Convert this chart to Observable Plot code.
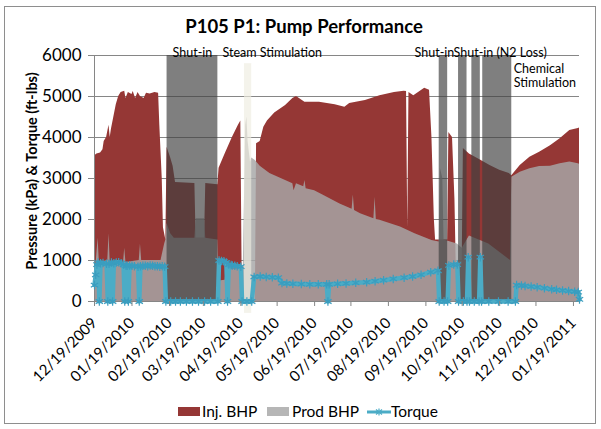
<!DOCTYPE html>
<html><head><meta charset="utf-8">
<script src="https://cdn.jsdelivr.net/npm/d3@7"></script>
<script src="https://cdn.jsdelivr.net/npm/@observablehq/plot@0.6"></script>
<style>
body{margin:0;background:#fff;font-family:Lato,"Open Sans",sans-serif;color:#000;}
#wrap{position:relative;width:601px;height:429px;overflow:hidden;}
#frame{position:absolute;left:4px;top:6px;width:592px;height:418px;border:1px solid #8e8e8e;box-sizing:border-box;}
#title{position:absolute;left:0;width:608px;top:15px;text-align:center;font-weight:bold;font-size:18.5px;line-height:22px;}
#ylab{position:absolute;left:-118px;top:161px;width:300px;line-height:20px;text-align:center;font-weight:bold;font-size:14.5px;transform:rotate(-90deg);}
#chart{position:absolute;left:0;top:0;}
.sw{position:absolute;}
.lt{position:absolute;font-size:15.5px;line-height:18px;top:402px;}
</style></head>
<body><div id="wrap"><div id="frame"></div><div id="title">P105 P1: Pump Performance</div><div id="ylab">Pressure (kPa) &amp; Torque (ft-lbs)</div><div id="chart"></div><div id="legend"></div></div>
<script>
// ---- data ----
const injBHP = [
["2009-12-19",3550],["2009-12-21",3600],["2009-12-24",3620],["2009-12-26",3700],["2009-12-27",3900],["2009-12-29",4000],["2009-12-31",4300],["2010-01-01",4000],["2010-01-02",4200],["2010-01-04",4500],["2010-01-06",4800],["2010-01-08",5000],["2010-01-10",5100],["2010-01-13",5130],["2010-01-14",4950],["2010-01-16",5100],["2010-01-19",5050],["2010-01-20",5120],["2010-01-22",4950],["2010-01-24",5100],["2010-01-26",5000],["2010-01-29",4950],["2010-01-31",5080],["2010-02-03",5060],["2010-02-07",5100],["2010-02-10",5080],["2010-02-11",4300],["2010-02-13",3000],["2010-02-14",1800],["2010-02-16",1500],["2010-02-17",3760],["2010-02-20",3500],["2010-02-22",3300],["2010-02-24",2900],["2010-03-12",2880],["2010-03-13",1550],["2010-03-20",1550],["2010-03-21",2880],["2010-03-31",2850],["2010-04-01",3250],["2010-04-06",3600],["2010-04-12",4000],["2010-04-17",4300],["2010-04-19",4400],["2010-04-20",900],["2010-04-21",0],["2010-05-01",0],["2010-05-02",3850],["2010-05-05",3900],["2010-05-08",4250],["2010-05-11",4400],["2010-05-17",4600],["2010-05-26",4780],["2010-06-01",4950],["2010-06-04",5000],["2010-06-11",4860],["2010-06-23",4860],["2010-07-06",4800],["2010-07-14",4740],["2010-07-18",4830],["2010-07-31",4900],["2010-08-12",5020],["2010-08-24",5100],["2010-09-01",5130],["2010-09-03",5120],["2010-09-04",1800],["2010-09-05",5100],["2010-09-09",5020],["2010-09-18",5200],["2010-09-22",5150],["2010-09-24",4000],["2010-09-26",2000],["2010-09-27",1500],["2010-10-07",1500],["2010-10-08",4120],["2010-10-11",4000],["2010-10-13",2500],["2010-10-14",1000],["2010-10-16",800],["2010-10-19",900],["2010-10-20",3730],["2010-10-25",3600],["2010-11-03",3450],["2010-11-11",3320],["2010-11-19",3200],["2010-11-27",3120],["2010-11-29",3070],["2010-12-06",3320],["2010-12-14",3520],["2010-12-22",3640],["2010-12-31",3800],["2011-01-08",3970],["2011-01-16",4170],["2011-01-23",4220],["2011-01-24",4230]
];
const prodBHP = [
["2009-12-19",0],["2009-12-20",800],["2009-12-22",1550],["2009-12-23",950],["2009-12-30",1000],["2009-12-31",1650],["2010-01-01",950],["2010-01-12",950],["2010-01-13",1300],["2010-01-14",950],["2010-01-25",1000],["2010-01-26",1400],["2010-01-27",1000],["2010-02-12",1000],["2010-02-15",1400],["2010-02-16",1500],["2010-02-17",1900],["2010-02-20",1650],["2010-02-23",1540],["2010-03-12",1540],["2010-03-13",2020],["2010-03-20",2020],["2010-03-21",1540],["2010-03-31",1500],["2010-04-01",500],["2010-04-06",520],["2010-04-07",800],["2010-04-21",800],["2010-04-22",2500],["2010-04-23",4300],["2010-04-24",4500],["2010-04-25",3900],["2010-04-27",3400],["2010-04-28",3500],["2010-05-01",3440],["2010-05-05",3300],["2010-05-13",3120],["2010-05-26",2950],["2010-06-01",2870],["2010-06-02",2700],["2010-06-04",2870],["2010-06-10",2800],["2010-06-11",2950],["2010-06-12",2750],["2010-06-19",2700],["2010-06-27",2580],["2010-07-10",2380],["2010-07-20",2250],["2010-07-21",2600],["2010-07-22",2220],["2010-07-27",2140],["2010-08-07",2020],["2010-08-08",2540],["2010-08-09",2000],["2010-08-12",1980],["2010-08-29",1820],["2010-09-10",1650],["2010-09-24",1490],["2010-09-30",1450],["2010-10-01",3250],["2010-10-03",3000],["2010-10-04",1500],["2010-10-15",1400],["2010-10-19",1300],["2010-10-25",1600],["2010-11-10",1400],["2010-11-28",1000],["2010-11-29",3030],["2010-12-06",3150],["2010-12-14",3240],["2010-12-22",3290],["2010-12-31",3300],["2011-01-08",3360],["2011-01-16",3400],["2011-01-23",3360],["2011-01-24",3350]
];
const torque = [
["2009-12-19",400],["2009-12-20",650],["2009-12-21",900],["2009-12-22",950],["2009-12-23",0],["2009-12-24",930],["2009-12-26",940],["2009-12-29",920],["2009-12-30",0],["2009-12-31",920],["2010-01-02",950],["2010-01-03",0],["2010-01-04",930],["2010-01-06",950],["2010-01-08",960],["2010-01-10",930],["2010-01-12",900],["2010-01-13",0],["2010-01-14",880],["2010-01-15",870],["2010-01-16",0],["2010-01-17",880],["2010-01-19",870],["2010-01-21",860],["2010-01-24",850],["2010-01-25",0],["2010-01-26",860],["2010-01-28",870],["2010-01-30",870],["2010-02-01",860],["2010-02-03",880],["2010-02-05",870],["2010-02-07",860],["2010-02-09",860],["2010-02-11",850],["2010-02-13",860],["2010-02-15",850],["2010-02-16",0],["2010-02-20",0],["2010-02-24",0],["2010-02-28",0],["2010-03-05",0],["2010-03-10",0],["2010-03-15",0],["2010-03-20",0],["2010-03-25",0],["2010-03-31",0],["2010-04-01",1000],["2010-04-03",990],["2010-04-05",980],["2010-04-07",950],["2010-04-08",0],["2010-04-09",900],["2010-04-11",890],["2010-04-12",880],["2010-04-14",870],["2010-04-16",860],["2010-04-19",850],["2010-04-20",0],["2010-04-24",0],["2010-04-28",0],["2010-04-30",600],["2010-05-05",610],["2010-05-10",600],["2010-05-15",590],["2010-05-20",580],["2010-05-23",450],["2010-05-27",440],["2010-06-01",430],["2010-06-08",425],["2010-06-15",420],["2010-06-22",420],["2010-06-29",420],["2010-06-30",0],["2010-07-01",420],["2010-07-08",430],["2010-07-15",440],["2010-07-23",455],["2010-08-01",470],["2010-08-08",495],["2010-08-15",520],["2010-08-23",550],["2010-09-01",580],["2010-09-08",610],["2010-09-15",650],["2010-09-23",715],["2010-09-29",750],["2010-09-30",0],["2010-10-04",0],["2010-10-07",0],["2010-10-08",880],["2010-10-12",900],["2010-10-15",900],["2010-10-16",0],["2010-10-20",0],["2010-10-23",0],["2010-10-24",1080],["2010-10-25",0],["2010-10-29",0],["2010-11-02",0],["2010-11-03",1080],["2010-11-04",0],["2010-11-10",0],["2010-11-18",0],["2010-11-26",0],["2010-12-02",0],["2010-12-03",400],["2010-12-07",390],["2010-12-10",380],["2010-12-15",365],["2010-12-20",350],["2010-12-26",325],["2011-01-01",300],["2011-01-05",285],["2011-01-10",270],["2011-01-15",255],["2011-01-20",240],["2011-01-23",230],["2011-01-24",50]
];
const shutInPeriods = [["2010-02-17","2010-03-31"],["2010-09-30","2010-10-07"],["2010-10-16","2010-10-23"],["2010-10-27","2010-11-03"],["2010-11-05","2010-11-29"]];
const steamPeriod = [["2010-04-22","2010-04-28"]];
const eventLabels = ["Shut-in","Steam Stimulation","Shut-in","Shut-in (N2 Loss)","Chemical\nStimulation"];
const xTickLabels = ["12/19/2009","01/19/2010","02/19/2010","03/19/2010","04/19/2010","05/19/2010","06/19/2010","07/19/2010","08/19/2010","09/19/2010","10/19/2010","11/19/2010","12/19/2010","01/19/2011"];
const yTicks = [0,1000,2000,3000,4000,5000,6000];
const xDomain = ["2009-12-19","2011-01-24"];
const seriesNames = ["Inj. BHP","Prod BHP","Torque"];

// ---- chart ----
const D = s => new Date(s + "T00:00:00Z");
const parseTick = d3.utcParse("%m/%d/%Y");
const xTicks = xTickLabels.map(parseTick);
const fmt = d3.utcFormat("%m/%d/%Y");
const grey = "#868686";
const mid = p => new Date((D(p[0]).getTime() + D(p[1]).getTime()) / 2);

const chart = Plot.plot({
  width: 601, height: 395,
  marginLeft: 94, marginRight: 22, marginTop: 55, marginBottom: 94,
  x: {type: "utc", domain: xDomain.map(D)},
  y: {domain: [0, 6000]},
  style: {fontFamily: "Lato, 'Open Sans', sans-serif", fontSize: "15px", color: "#000", background: "transparent", overflow: "visible"},
  marks: [
    Plot.gridY(yTicks.filter(v => v > 0), {stroke: grey, strokeOpacity: 1}),
    Plot.areaY(injBHP, {x: d => D(d[0]), y: d => d[1], fill: "#953735"}),
    Plot.areaY(prodBHP, {x: d => D(d[0]), y: d => d[1], fill: "#a7a7a7", fillOpacity: 0.83}),
    Plot.rect(steamPeriod, {x1: d => D(d[0]), x2: d => D(d[1]), y1: -290, y2: 5800, fill: "#eeece1", fillOpacity: 0.65}),
    Plot.rect(shutInPeriods, {x1: d => D(d[0]), x2: d => D(d[1]), y1: 0, y2: 6000, fill: "#404040", fillOpacity: 0.67}),
    Plot.ruleY([0], {stroke: grey}),
    Plot.ruleX([D(xDomain[0])], {stroke: grey}),
    Plot.line(torque, {x: d => D(d[0]), y: d => d[1], stroke: "#4bacc6", strokeWidth: 4.5}),
    Plot.dot(torque, {x: d => D(d[0]), y: d => d[1], symbol: "asterisk", r: 4, stroke: "#3a9dbf", strokeWidth: 1.2}),
    Plot.axisY(yTicks, {tickSize: 6, tickPadding: 7, stroke: grey, fontSize: 17, tickFormat: d => String(d), label: null}),
    Plot.axisX(xTicks, {tickRotate: -45, tickSize: 5, tickPadding: 14, stroke: grey, fontSize: 15, tickFormat: fmt, label: null}),
    Plot.text([eventLabels[0]], {x: mid(shutInPeriods[0]), frameAnchor: "top", dy: -7, fontSize: 12.5}),
    Plot.text([eventLabels[1]], {x: D(steamPeriod[0][0]), frameAnchor: "top", dy: -7, dx: -22, textAnchor: "start", fontSize: 12.5}),
    Plot.text([eventLabels[2]], {x: mid(shutInPeriods[1]), frameAnchor: "top", dy: -7, dx: -9, fontSize: 12.5}),
    Plot.text([eventLabels[3]], {x: D(shutInPeriods[2][0]), frameAnchor: "top", dy: -7, dx: -5, textAnchor: "start", fontSize: 12.5}),
    Plot.text([eventLabels[4]], {x: D(shutInPeriods[4][1]), frameAnchor: "top", dy: 7, dx: 2, textAnchor: "start", lineAnchor: "top", lineHeight: 1.15, fontSize: 12.5})
  ]
});
document.getElementById("chart").appendChild(chart);

// ---- legend ----
const lg = document.getElementById("legend");
const items = [
  {name: seriesNames[0], kind: "rect", color: "#953735", sx: 178, tx: 202},
  {name: seriesNames[1], kind: "rect", color: "#b6b6b6", sx: 267, tx: 292},
  {name: seriesNames[2], kind: "line", color: "#4bacc6", sx: 367, tx: 391}
];
for (const it of items) {
  if (it.kind === "rect") {
    const s = document.createElement("div");
    s.className = "sw";
    Object.assign(s.style, {left: it.sx + "px", top: "407px", width: "22px", height: "9px", background: it.color});
    lg.appendChild(s);
  } else {
    const ns = "http://www.w3.org/2000/svg";
    const svg = document.createElementNS(ns, "svg");
    svg.setAttribute("width", 24); svg.setAttribute("height", 12);
    Object.assign(svg.style, {position: "absolute", left: it.sx + "px", top: "406px"});
    svg.innerHTML = `<line x1="0" y1="6" x2="24" y2="6" stroke="${it.color}" stroke-width="3"/>` +
      `<g stroke="${it.color}" stroke-width="1.2"><line x1="12" y1="2.5" x2="12" y2="9.5"/><line x1="9" y1="3.5" x2="15" y2="8.5"/><line x1="9" y1="8.5" x2="15" y2="3.5"/></g>`;
    lg.appendChild(svg);
  }
  const t = document.createElement("div");
  t.className = "lt"; t.style.left = it.tx + "px"; t.textContent = it.name;
  lg.appendChild(t);
}
</script></body></html>
